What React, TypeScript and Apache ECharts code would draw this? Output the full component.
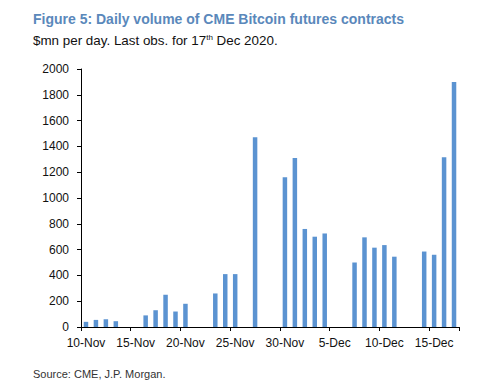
import React, { useEffect, useRef } from "react";
import * as echarts from "echarts";

const dates: string[] = [
  "10-Nov","11-Nov","12-Nov","13-Nov","14-Nov","15-Nov","16-Nov","17-Nov","18-Nov","19-Nov",
  "20-Nov","21-Nov","22-Nov","23-Nov","24-Nov","25-Nov","26-Nov","27-Nov","28-Nov","29-Nov",
  "30-Nov","1-Dec","2-Dec","3-Dec","4-Dec","5-Dec","6-Dec","7-Dec","8-Dec","9-Dec",
  "10-Dec","11-Dec","12-Dec","13-Dec","14-Dec","15-Dec","16-Dec","17-Dec",
];

const volumes: (number | null)[] = [
  40, 55, 60, 45, null, null, 90, 130, 250, 120,
  180, null, null, 260, 410, 410, null, 1470, null, null,
  1160, 1310, 760, 700, 725, null, null, 500, 695, 615,
  635, 545, null, null, 585, 560, 1315, 1900,
];

const yTicks = { min: 0, max: 2000, interval: 200 };

const FONT = 'Arial, "Liberation Sans", sans-serif';

export default function App() {
  const ref = useRef<HTMLDivElement>(null);
  useEffect(() => {
    if (!ref.current) return;
    const chart = echarts.init(ref.current, null, { renderer: "svg" });
    chart.setOption({
      animation: false,
      backgroundColor: "#ffffff",
      textStyle: { fontFamily: FONT },
      title: [
        {
          text: "Figure 5: Daily volume of CME Bitcoin futures contracts",
          left: 33,
          top: 12,
          padding: 0,
          textStyle: { fontFamily: FONT, fontSize: 14, fontWeight: "bold", color: "#5a88bb" },
        },
        {
          text: "$mn per day. Last obs. for 17{sup|th} Dec 2020.",
          left: 33,
          top: 33,
          padding: 0,
          textStyle: {
            fontFamily: FONT,
            fontSize: 13.4,
            fontWeight: "normal",
            color: "#111111",
            rich: {
              sup: { fontSize: 8, verticalAlign: "top", padding: [0, 0, 7, 0], color: "#111111", fontFamily: FONT },
            },
          },
        },
        {
          text: "Source: CME, J.P. Morgan.",
          left: 33,
          top: 368,
          padding: 0,
          textStyle: { fontFamily: FONT, fontSize: 11, fontWeight: "normal", color: "#333333" },
        },
      ],
      grid: { left: 81, right: 41, top: 69, bottom: 63, containLabel: false },
      xAxis: {
        type: "category",
        data: dates,
        boundaryGap: true,
        axisLine: { show: true, lineStyle: { color: "#000000", width: 1 } },
        axisTick: { show: true, interval: 4, length: 4, lineStyle: { color: "#000000" } },
        axisLabel: { interval: 4, color: "#111111", fontSize: 12, margin: 10, fontFamily: FONT },
        splitLine: { show: false },
      },
      yAxis: {
        type: "value",
        min: yTicks.min,
        max: yTicks.max,
        interval: yTicks.interval,
        axisLine: { show: true, lineStyle: { color: "#000000", width: 1 } },
        axisTick: { show: true, length: 4, lineStyle: { color: "#000000" } },
        axisLabel: {
          color: "#111111",
          fontSize: 12,
          margin: 12,
          fontFamily: FONT,
          formatter: (v: number) => String(v),
        },
        splitLine: { show: false },
      },
      series: [
        {
          type: "bar",
          data: volumes,
          barWidth: 4.5,
          itemStyle: { color: "#5b93d1" },
        },
      ],
    });
    return () => chart.dispose();
  }, []);
  return <div ref={ref} style={{ width: 500, height: 390, position: "absolute", left: 0, top: 0 }} />;
}
